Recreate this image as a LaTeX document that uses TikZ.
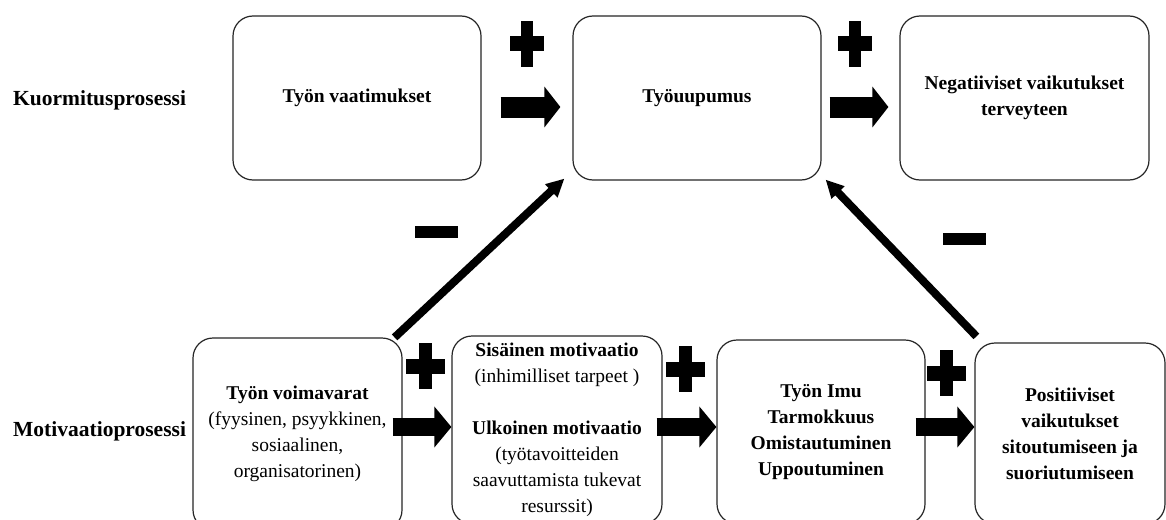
\documentclass[tikz,border=0pt]{standalone}
\usepackage{fontspec}
\setmainfont{Liberation Serif}
\usetikzlibrary{arrows.meta}
\begin{document}
\begin{tikzpicture}[x=1pt,y=-1pt,
  box/.style={draw=black!85, line width=1.2pt, rounded corners=20pt, inner sep=0pt,
    align=center, font=\fontsize{19.5}{26}\selectfont},
  side/.style={anchor=west, inner sep=0pt, font=\fontsize{21.5}{26}\selectfont\bfseries},
  blk/.style={line width=#1, -{Triangle[length=16pt,width=40pt]}},
  blkb/.style={line width=18pt, -{Triangle[length=17pt,width=40pt]}},
  diag/.style={line width=8pt, -{Triangle[length=18pt,width=17pt]}},
  plustop/.pic={\fill (-6,-22.5) rectangle (6,22.5); \fill (-17,-7.5) rectangle (17,7.5);},
  plusbot/.pic={\fill (-6.5,-23) rectangle (6.5,23); \fill (-19.5,-7.5) rectangle (19.5,7.5);},
  minussign/.pic={\fill (-21.5,-6) rectangle (21.5,6);}
]
\useasboundingbox (0,0) rectangle (1166,519);
\fill[white] (0,0) rectangle (1166,519);
\clip (0,0) rectangle (1166,519);

% side labels
\node[side] (kuor) at (13,100) {Kuormitusprosessi};
\node[side] (moti) at (13,431) {Motivaatioprosessi};

% top row
\node[box, minimum width=248pt, minimum height=164pt] (vaat) at (357,98)
  {\textbf{Työn vaatimukset}};
\node[box, minimum width=248pt, minimum height=164pt] (uup) at (697,98)
  {\textbf{Työuupumus}};
\node[box, minimum width=249pt, minimum height=164pt] (neg) at (1024.5,98)
  {\textbf{Negatiiviset vaikutukset}\\\textbf{terveyteen}};

% bottom row
\node[box, minimum width=209pt, minimum height=192pt] (voim) at (297.5,434)
  {\textbf{Työn voimavarat}\\(fyysinen, psyykkinen,\\sosiaalinen,\\organisatorinen)};
\node[box, minimum width=210pt, minimum height=188pt] (mot) at (557,430)
  {\textbf{Sisäinen motivaatio}\\(inhimilliset tarpeet )\\[26pt]\textbf{Ulkoinen motivaatio}\\(työtavoitteiden\\saavuttamista tukevat\\resurssit)};
\node[box, minimum width=208pt, minimum height=184pt] (imu) at (821,432)
  {\textbf{Työn Imu}\\\textbf{Tarmokkuus}\\\textbf{Omistautuminen}\\\textbf{Uppoutuminen}};
\node[box, minimum width=190pt, minimum height=181pt] (pos) at (1070,433.5)
  {\textbf{Positiiviset}\\\textbf{vaikutukset}\\\textbf{sitoutumiseen ja}\\\textbf{suoriutumiseen}};

% block arrows
\coordinate (ty) at (0,107);
\coordinate (by) at (0,427);
\draw[blk=21pt, shorten <=19pt, shorten >=12pt] (vaat.east |- ty) -- (uup.west |- ty);
\draw[blk=21pt, shorten <=8pt, shorten >=11pt] (uup.east |- ty) -- (neg.west |- ty);
\draw[blkb, shorten <=-10pt] (voim.east |- by) -- (mot.west |- by);
\draw[blkb, shorten <=-6pt] (mot.east |- by) -- (imu.west |- by);
\draw[blkb, shorten <=-10pt] (imu.east |- by) -- (pos.west |- by);

% diagonal arrows
\draw[diag] ([xshift=-8pt]voim.north east) -- ([xshift=-8pt,yshift=2pt]uup.south west);
\draw[diag] ([xshift=2pt,yshift=6pt]pos.north west) -- ([xshift=4pt,yshift=1pt]uup.south east);

% signs
\pic at (527,44) {plustop};
\pic at (855,44) {plustop};
\pic at (425,366) {plusbot};
\pic at (685,369) {plusbot};
\pic at (946,373) {plusbot};
\pic at (436,232) {minussign};
\pic at (964.5,239) {minussign};
\end{tikzpicture}
\end{document}
